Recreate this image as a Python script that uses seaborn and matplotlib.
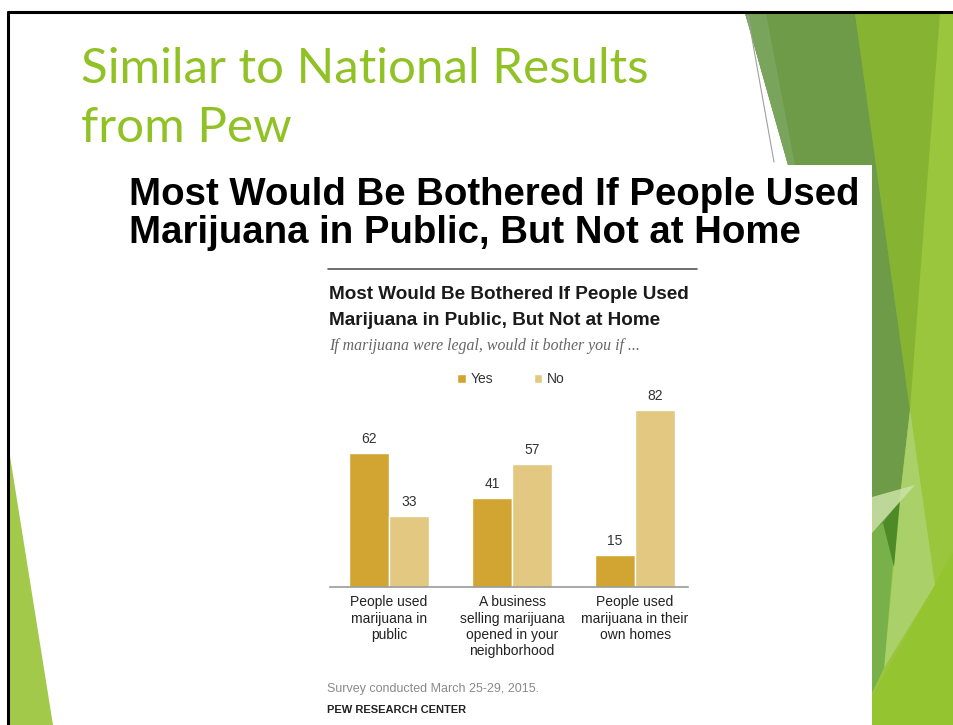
import numpy as np
import pandas as pd
import seaborn as sns
import matplotlib.pyplot as plt
from matplotlib.patches import Polygon, Rectangle
from matplotlib.lines import Line2D
from matplotlib.transforms import Affine2D

# ---- data -------------------------------------------------------------
categories = [
    "People used\nmarijuana in\npublic",
    "A business\nselling marijuana\nopened in your\nneighborhood",
    "People used\nmarijuana in their\nown homes",
]
responses = ["Yes", "No"]
yes_values = [62, 41, 15]
no_values = [33, 57, 82]

slide_title = ["Similar to National Results", "from Pew"]
headline = ["Most Would Be Bothered If People Used",
            "Marijuana in Public, But Not at Home"]
subtitle = "If marijuana were legal, would it bother you if ..."
note = "Survey conducted March 25-29, 2015."
source = "PEW RESEARCH CENTER"

# ---- styling ----------------------------------------------------------
sns.set_style("white")
plt.rcParams["font.family"] = ["Liberation Sans", "DejaVu Sans"]

YES_COLOR = "#D2A532"
NO_COLOR = "#E2C880"
SLIDE_GREEN = "#90C226"

W, H = 954, 725
fig = plt.figure(figsize=(W / 100, H / 100), dpi=100)
fig.patch.set_facecolor("white")
# pixel coordinates measured from the top-left corner of the slide
px = Affine2D().scale(1 / W, -1 / H).translate(0, 1) + fig.transFigure


def shape(points, color, z=1, alpha=1.0):
    fig.add_artist(Polygon(points, closed=True, facecolor=color, edgecolor="none",
                           transform=px, zorder=z, alpha=alpha))


# ---- slide decoration (facet-style green panels) ----------------------
shape([(745, 13), (954, 13), (954, 725), (872, 725), (872, 165), (788, 165)],
      "#9AC63E", z=1)
shape([(954, 550), (954, 725), (872, 725), (872, 697)], "#95C431", z=2)
shape([(855, 13), (940, 13), (910, 410)], "#86B432", z=2)
shape([(745, 13), (855, 13), (910, 410), (902, 480), (897, 515),
       (872, 535), (872, 165), (788, 165)], "#6D9B48", z=3)
shape([(745, 13), (766, 13), (795, 165), (788, 165)], "#78A45C", z=3)
shape([(910, 410), (935, 585), (884, 668), (902, 480)], "#A9D069", z=3)
shape([(872, 530), (897, 515), (884, 668), (872, 693)], "#78B04A", z=3)
shape([(883, 523), (900, 500), (894, 567)], "#4E8A25", z=4)
shape([(872, 497), (915, 485), (872, 533)], "#CBE2A6", z=4, alpha=0.85)
fig.add_artist(Line2D([748, 774], [16, 162], color="#a0a0a0", lw=0.8,
                      transform=px, zorder=4))

# left accent triangle
shape([(9, 450), (53, 725), (9, 725)], "#A3C94A", z=2)

# slide frame lines
fig.add_artist(Line2D([8, 954], [12, 12], color="black", lw=2.2, transform=px, zorder=6))
fig.add_artist(Line2D([8, 8], [12, 725], color="black", lw=2.2, transform=px, zorder=6))

# slide title
for text, base in zip(slide_title, [83, 142]):
    fig.text(81, base, text, transform=px, color=SLIDE_GREEN, fontsize=35.5,
             family=["Lato", "DejaVu Sans"], va="baseline", ha="left", zorder=7)

# white panel holding the Pew graphic
fig.add_artist(Rectangle((110, 165), 762, 560, facecolor="white", edgecolor="none",
                         transform=px, zorder=5))

# large headline
for text, base in zip(headline, [205, 243]):
    fig.text(129, base, text, transform=px, fontsize=27.6, fontweight="bold",
             color="black", va="baseline", ha="left", zorder=7)

# rule above the Pew chart
fig.add_artist(Line2D([328, 697], [269, 269], color="#555555", lw=1.2,
                      transform=px, zorder=7))

# Pew chart title
for text, base in zip(headline, [299, 325]):
    fig.text(329, base, text, transform=px, fontsize=13.6, fontweight="bold",
             color="#1a1a1a", va="baseline", ha="left", zorder=7)

fig.text(329, 350, subtitle, transform=px, fontsize=11.4, style="italic",
         family=["Liberation Serif", "DejaVu Serif"], color="#666666",
         va="baseline", ha="left", zorder=7)

# ---- bar chart --------------------------------------------------------
df = pd.DataFrame({
    "item": categories * 2,
    "response": ["Yes"] * len(yes_values) + ["No"] * len(no_values),
    "pct": yes_values + no_values,
})

ax = fig.add_axes([330 / W, (H - 587) / H, (688 - 330) / W, 207 / H], zorder=8)
ax.patch.set_alpha(0)
sns.barplot(data=df, x="item", y="pct", hue="response", hue_order=responses,
            order=categories, palette=[YES_COLOR, NO_COLOR], saturation=1,
            width=0.65, errorbar=None, ax=ax)

for cont in ax.containers:
    ax.bar_label(cont, padding=5, fontsize=10, color="#333333")

ax.set_xlim(-0.48, 2.43)
ax.set_ylim(0, 95.8)
ax.set_yticks([])
ax.set_xlabel("")
ax.set_ylabel("")
for side in ["left", "right", "top"]:
    ax.spines[side].set_visible(False)
ax.spines["bottom"].set_color("#9a9a9a")
ax.spines["bottom"].set_linewidth(1.2)
ax.tick_params(axis="x", length=0, pad=6, labelsize=10, labelcolor="#222222")
for t in ax.get_xticklabels():
    t.set_linespacing(1.2)

handles, labels = ax.get_legend_handles_labels()
ax.legend(handles, labels, loc="center", bbox_to_anchor=(511, 379), bbox_transform=px,
          ncol=2, frameon=False, fontsize=10, handlelength=0.6, handleheight=0.6,
          handletextpad=0.35, columnspacing=2.9, labelcolor="#333333")

# footnotes
fig.text(327, 692, note, transform=px, fontsize=9, color="#8a8a8a",
         va="baseline", ha="left", zorder=7)
fig.text(327, 713, source, transform=px, fontsize=8, fontweight="bold",
         color="#222222", va="baseline", ha="left", zorder=7)

fig.savefig("out.png", dpi=100, facecolor="white")
